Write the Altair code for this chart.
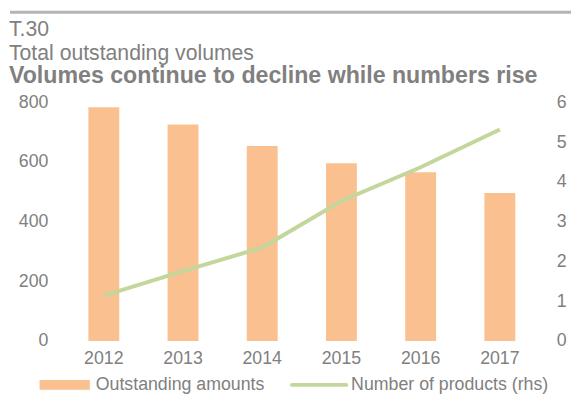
import altair as alt
import pandas as pd

years = ["2012", "2013", "2014", "2015", "2016", "2017"]
amounts = [784, 726, 654, 596, 566, 496]
products = [1.14, 1.76, 2.35, 3.52, 4.37, 5.32]

title_lines = ["T.30", "Total outstanding volumes"]
headline = "Volumes continue to decline while numbers rise"
legend_labels = ["Outstanding amounts", "Number of products (rhs)"]

df = pd.DataFrame({"year": years, "amount": amounts, "products": products})

GRAY = "#808080"
BAR = "#FAC090"
LINE = "#C3D69B"
FONT = "Arial, Liberation Sans, sans-serif"

xenc = alt.X("year:N", sort=years, title=None,
             scale=alt.Scale(paddingInner=0.61, paddingOuter=0.305),
             axis=alt.Axis(labelAngle=0, labelPadding=9, ticks=False, domain=False,
                           labelFontSize=18, labelColor=GRAY, labelFont=FONT))

bars = alt.Chart(df).mark_bar(color=BAR).encode(
    x=xenc,
    y=alt.Y("amount:Q", title=None,
            scale=alt.Scale(domain=[0, 800]),
            axis=alt.Axis(orient="left", values=[0, 200, 400, 600, 800], grid=False,
                          ticks=False, domain=False, labelPadding=16.5,
                          labelFontSize=18, labelColor=GRAY, labelFont=FONT)),
)

line = alt.Chart(df).mark_line(color=LINE, strokeWidth=4).encode(
    x=alt.X("year:N", sort=years),
    y=alt.Y("products:Q", title=None,
            scale=alt.Scale(domain=[0, 6]),
            axis=alt.Axis(orient="right", values=[0, 1, 2, 3, 4, 5, 6], grid=False,
                          ticks=False, domain=False, labelPadding=17,
                          labelFontSize=18, labelColor=GRAY, labelFont=FONT)),
)

main = alt.layer(bars, line).resolve_scale(y="independent")

one = alt.Data(values=[{}])

def text(t, x, y, size, weight="normal"):
    return alt.Chart(one).mark_text(
        text=t, align="left", baseline="alphabetic", fontSize=size,
        fontWeight=weight, color=GRAY, font=FONT
    ).encode(x=alt.value(x), y=alt.value(y))

top_rule = alt.Chart(one).mark_rule(color="#B4B4B4", strokeWidth=3).encode(
    x=alt.value(-55), x2=alt.value(520), y=alt.value(-91.5))

t1 = text(title_lines[0], -56, -67.5, 21.5)
t2 = text(title_lines[1], -56, -43.5, 21.5)
t3 = text(headline, -56, -19.5, 23.5, "bold")

leg_rect = alt.Chart(one).mark_rect(color=BAR).encode(
    x=alt.value(-25), x2=alt.value(26), y=alt.value(281.5), y2=alt.value(291.5))
leg_line = alt.Chart(one).mark_rule(color=LINE, strokeWidth=4, strokeCap="round").encode(
    x=alt.value(231), x2=alt.value(286), y=alt.value(286.5))
leg_t1 = text(legend_labels[0], 32, 292, 18)
leg_t2 = text(legend_labels[1], 291, 292, 18)

chart = alt.layer(
    main, top_rule, t1, t2, t3, leg_rect, leg_line, leg_t1, leg_t2
).properties(
    width=482, height=242,
    autosize=alt.AutoSizeParams(type="none"),
    padding={"left": 57, "top": 93, "right": 32, "bottom": 52},
).configure_view(stroke=None)

chart.save("out.html", embed_options={"renderer": "svg", "actions": False})
